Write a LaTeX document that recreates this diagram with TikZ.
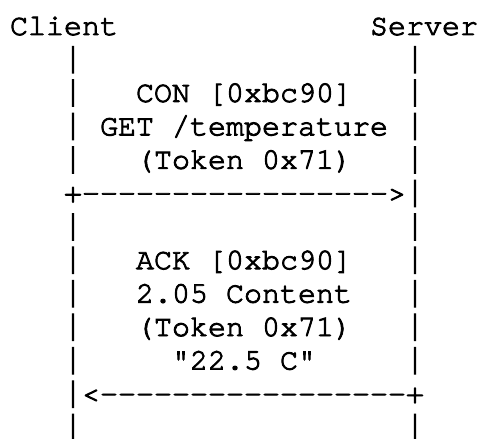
\documentclass[tikz,border=0pt]{standalone}
\usepackage{fontspec}
\setmonofont[FakeBold=3]{texgyrecursor-regular.otf}
\newcommand{\vbar}{\scalebox{1}[1.22]{|}}
\begin{document}
\begin{tikzpicture}[x=1pt,y=1pt,
  ascii/.style={anchor=base west, inner sep=0pt, outer sep=0pt,
    font=\ttfamily\fontsize{30}{30}\selectfont}]
\useasboundingbox[fill=white] (0,0) rectangle (477,439);
% column c -> x = 10 + 18c ; row k -> baseline y = 404 - 33.45k
\node[ascii] (client) at (10,404) {Client};
\node[ascii] (server) at (370,404) {Server};
\node[ascii] (l1) at (64,370.55) {\vbar};
\node[ascii] (r1) at (406,370.55) {\vbar};
\node[ascii] (l2) at (64,337.1) {\vbar};
\node[ascii] (con) at (136,337.1) {CON [0xbc90]};
\node[ascii] (r2) at (406,337.1) {\vbar};
\node[ascii] (l3) at (64,303.65) {\vbar};
\node[ascii] (get) at (100,303.65) {GET /temperature};
\node[ascii] (r3) at (406,303.65) {\vbar};
\node[ascii] (l4) at (64,270.2) {\vbar};
\node[ascii] (tok1) at (136,270.2) {(Token 0x71)};
\node[ascii] (r4) at (406,270.2) {\vbar};
\node[ascii] (req) at (64,236.75) {+----------------->\vbar};
\node[ascii] (l6) at (64,203.3) {\vbar};
\node[ascii] (r6) at (406,203.3) {\vbar};
\node[ascii] (l7) at (64,169.85) {\vbar};
\node[ascii] (ack) at (136,169.85) {ACK [0xbc90]};
\node[ascii] (r7) at (406,169.85) {\vbar};
\node[ascii] (l8) at (64,136.4) {\vbar};
\node[ascii] (cont) at (136,136.4) {2.05 Content};
\node[ascii] (r8) at (406,136.4) {\vbar};
\node[ascii] (l9) at (64,102.95) {\vbar};
\node[ascii] (tok2) at (136,102.95) {(Token 0x71)};
\node[ascii] (r9) at (406,102.95) {\vbar};
\node[ascii] (l10) at (64,69.5) {\vbar};
\node[ascii] (val) at (172,69.5) {"22.5 C"};
\node[ascii] (r10) at (406,69.5) {\vbar};
\node[ascii] (resp) at (64,36.05) {\vbar<-----------------+};
\node[ascii] (l12) at (64,2.6) {\vbar};
\node[ascii] (r12) at (406,2.6) {\vbar};
\end{tikzpicture}
\end{document}
